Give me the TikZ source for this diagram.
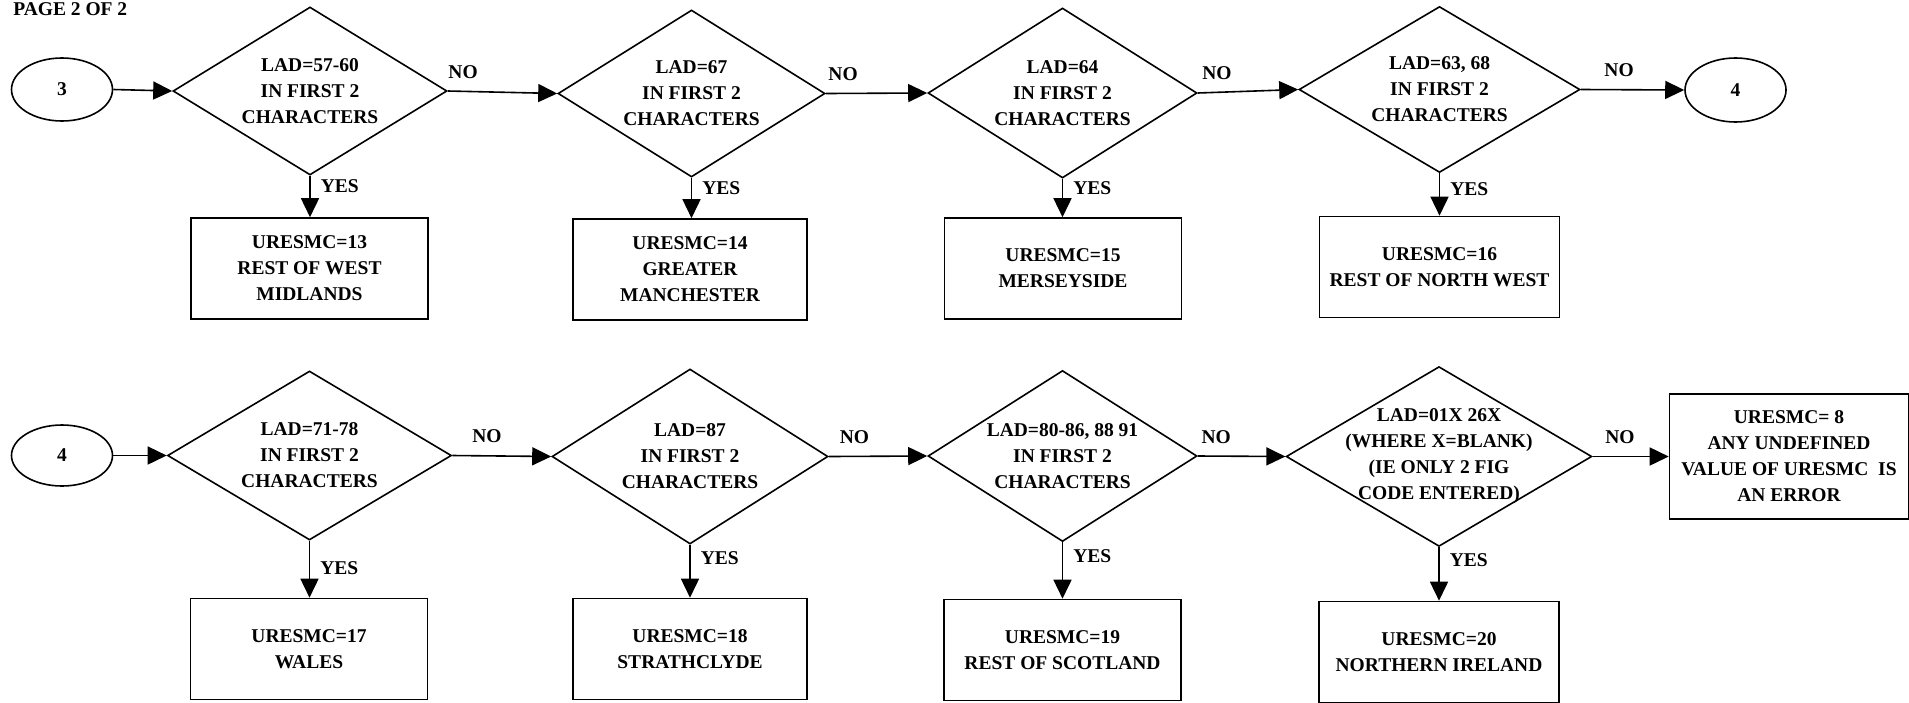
\documentclass[tikz,border=0pt]{standalone}
\usepackage{fontspec}
\setmainfont{Liberation Serif}
\usetikzlibrary{shapes.geometric,arrows.meta}

\begin{document}
\begin{tikzpicture}[x=0.5pt, y=-0.5pt, line width=0.8pt,
  font=\fontsize{9.75}{13}\selectfont\bfseries,
  connector/.style={ellipse, draw, minimum width=50.5pt, minimum height=31.5pt, inner sep=0pt},
  decision/.style={diamond, draw, align=center, aspect=1.7, inner sep=-4pt},
  outcome/.style={rectangle, draw, align=center, minimum width=118.5pt, minimum height=50.5pt, inner sep=1pt},
  flow/.style={-{Triangle[length=9.5pt,width=9pt]}},
  no/.style={inner sep=1pt, above=5pt},
  yes/.style={inner sep=1pt, right=4pt, pos=0.25}]
\useasboundingbox (0,0) rectangle (1909,702);
\node[anchor=base west, inner sep=0pt] (page) at (12.5,15.5) {PAGE 2 OF 2};

% first row
\node[connector] (c3) at (62,89.5) {3};
\node[decision, minimum width=137pt, minimum height=84pt] (d1) at (310,91) {LAD=57-60\\IN FIRST 2\\CHARACTERS};
\node[decision, minimum width=133.5pt, minimum height=83.5pt] (d2) at (691.5,93.5) {LAD=67\\IN FIRST 2\\CHARACTERS};
\node[decision, minimum width=134.5pt, minimum height=85pt] (d3) at (1062.5,93) {LAD=64\\IN FIRST 2\\CHARACTERS};
\node[decision, minimum width=140.5pt, minimum height=83pt] (d4) at (1439.5,89.5) {LAD=63, 68\\IN FIRST 2\\CHARACTERS};
\node[connector, minimum height=32pt] (c4a) at (1735.5,90) {4};
\node[outcome] (b1) at (309.5,268.5) {URESMC=13\\REST OF WEST\\MIDLANDS};
\node[outcome, minimum width=117pt] (b2) at (690,269.5) {URESMC=14\\GREATER\\MANCHESTER};
\node[outcome] (b3) at (1063,268.5) {URESMC=15\\MERSEYSIDE};
\node[outcome, minimum width=120pt] (b4) at (1439.5,267) {URESMC=16\\REST OF NORTH WEST};

% second row
\node[connector, minimum height=30.5pt] (c4b) at (62,455.5) {4};
\node[decision, minimum width=142pt, minimum height=84.5pt] (d5) at (309.5,455.5) {LAD=71-78\\IN FIRST 2\\CHARACTERS};
\node[decision, minimum width=138pt, minimum height=87.5pt] (d6) at (690,456.5) {LAD=87\\IN FIRST 2\\CHARACTERS};
\node[decision, minimum width=134.5pt, minimum height=85.5pt] (d7) at (1062.5,456) {LAD=80-86, 88 91\\IN FIRST 2\\CHARACTERS};
\node[decision, minimum width=149.5pt, minimum height=85pt] (d8) at (1439,456.5) {LAD=01X 26X\\(WHERE X=BLANK)\\(IE ONLY 2 FIG\\CODE ENTERED)};
\node[outcome, minimum width=119.5pt, minimum height=62.5pt] (b9) at (1789,456.5) {URESMC= 8\\ANY UNDEFINED\\VALUE OF URESMC\ \ IS\\AN ERROR};
\node[outcome] (b5) at (309,649) {URESMC=17\\WALES};
\node[outcome, minimum width=117pt] (b6) at (690,649) {URESMC=18\\STRATHCLYDE};
\node[outcome] (b7) at (1062.5,650) {URESMC=19\\REST OF SCOTLAND};
\node[outcome, minimum width=120pt] (b8) at (1439,652) {URESMC=20\\NORTHERN IRELAND};

\draw[flow] (c3.east) -- (d1.west);
\draw[flow] (d1.east) -- node[no, pos=0.14] {NO} (d2.west);
\draw[flow] (d2.east) -- node[no, pos=0.17] {NO} (d3.west);
\draw[flow] (d3.east) -- node[no, pos=0.19] {NO} (d4.west);
\draw[flow] (d4.east) -- node[no, pos=0.37] {NO} (c4a.west);
\draw[flow] (d1.south) -- node[yes] {YES} (d1.south |- b1.north);
\draw[flow] (d2.south) -- node[yes] {YES} (d2.south |- b2.north);
\draw[flow] (d3.south) -- node[yes] {YES} (d3.south |- b3.north);
\draw[flow] (d4.south) -- node[yes, pos=0.38] {YES} (d4.south |- b4.north);

\draw[flow] (c4b.east) -- (d5.west);
\draw[flow] (d5.east) -- node[no, pos=0.35] {NO} (d6.west);
\draw[flow] (d6.east) -- node[no, pos=0.26] {NO} (d7.west);
\draw[flow] (d7.east) -- node[no, pos=0.21] {NO} (d8.west);
\draw[flow] (d8.east) -- node[no, pos=0.36] {NO} (b9.west);
\draw[flow] (d5.south) -- node[yes, pos=0.48] {YES} (d5.south |- b5.north);
\draw[flow] (d6.south) -- node[yes] {YES} (d6.south |- b6.north);
\draw[flow] (d7.south) -- node[yes] {YES} (d7.south |- b7.north);
\draw[flow] (d8.south) -- node[yes] {YES} (d8.south |- b8.north);
\end{tikzpicture}
\end{document}
